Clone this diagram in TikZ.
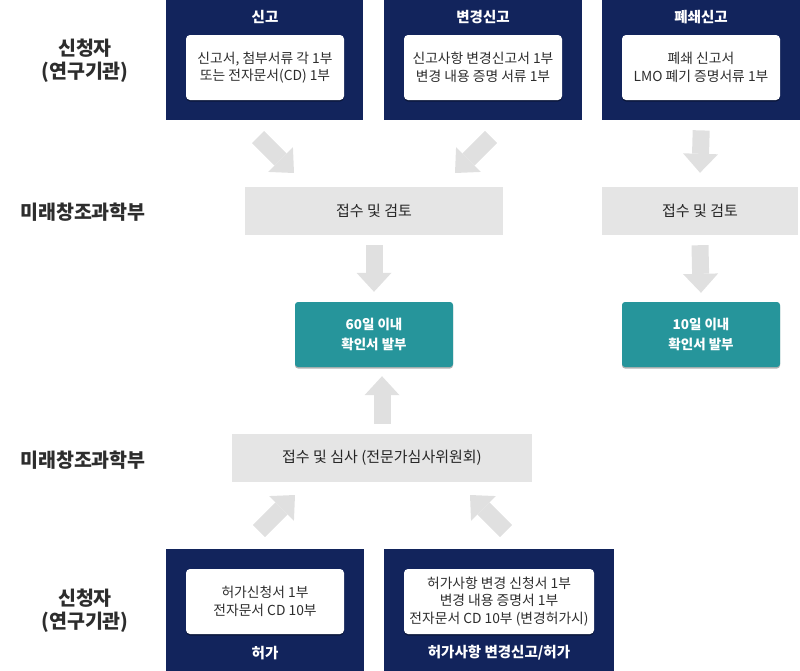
\documentclass[tikz,border=0pt]{standalone}
\usepackage{fontspec}
\setmainfont{Noto Sans CJK KR}
\usetikzlibrary{arrows.meta,positioning,shadows}
\definecolor{deepnavy}{RGB}{18,36,92}
\definecolor{tealbg}{RGB}{38,149,155}
\definecolor{boxgray}{RGB}{229,229,229}
\definecolor{arrowgray}{RGB}{224,224,224}
\definecolor{textgray}{RGB}{45,45,45}

\begin{document}
\begin{tikzpicture}[x=1pt, y=-1pt,
    navybox/.style={fill=deepnavy, inner sep=0pt, anchor=north west, minimum height=122pt},
    doctitle/.style={text=white, inner sep=0pt, font=\bfseries\fontsize{14.5}{16}\selectfont},
    docbox/.style={fill=white, rounded corners=4pt, minimum width=158pt, minimum height=65pt,
      align=center, inner sep=2pt, text=textgray, font=\fontsize{13.8}{17.5}\selectfont,
      drop shadow={shadow xshift=0pt, shadow yshift=-1.5pt, opacity=0.35, fill=black}},
    graybox/.style={fill=boxgray, minimum height=48pt, text=black!85,
      font=\fontsize{15}{17}\selectfont},
    tealbox/.style={fill=tealbg, rounded corners=3pt, minimum width=158pt, minimum height=65pt,
      align=center, text=white, font=\bfseries\fontsize{13.5}{20}\selectfont,
      drop shadow={shadow xshift=0pt, shadow yshift=-1.5pt, opacity=0.3, fill=black}},
    sidelabel/.style={align=center, text=textgray, font=\bfseries\fontsize{19.5}{23}\selectfont},
    fatarrow/.style={draw=arrowgray, line width=17pt,
      -{Triangle[length=19pt, width=35pt, line width=0pt]}}]
  \useasboundingbox (0,0) rectangle (800,670);

  % side labels
  \node[sidelabel] (appl1) at (85,61) {신청자\\(연구기관)};
  \node[sidelabel] (ministry1) at (83,212) {미래창조과학부};
  \node[sidelabel] (ministry2) at (83,460) {미래창조과학부};
  \node[sidelabel] (appl2) at (85,611) {신청자\\(연구기관)};

  % report forms
  \node[navybox, minimum width=197pt] (report) at (166,-2) {};
  \node[doctitle] (reporttitle) at (265,17) {신고};
  \node[docbox] (reportdoc) at (265,67.5) {신고서, 첨부서류 각 1부\\또는 전자문서(CD) 1부};

  \node[navybox, minimum width=198pt] (change) at (384,-2) {};
  \node[doctitle] (changetitle) at (483,17) {변경신고};
  \node[docbox] (changedoc) at (483,67.5) {신고사항 변경신고서 1부\\변경 내용 증명 서류 1부};

  \node[navybox, minimum width=198pt] (closing) at (602,-2) {};
  \node[doctitle] (closingtitle) at (701,17) {폐쇄신고};
  \node[docbox] (closingdoc) at (701,67.5) {폐쇄 신고서\\LMO 폐기 증명서류 1부};

  % review
  \node[graybox, minimum width=258pt] (review) at (374,211) {접수 및 검토};
  \node[graybox, minimum width=196pt] (review2) at (700,211) {접수 및 검토};

  \node[tealbox] (notice) at (374,334.5) {60일 이내\\확인서 발부};
  \node[tealbox] (notice2) at (701,334.5) {10일 이내\\확인서 발부};

  \node[graybox, minimum width=300pt] (screen) at (382,458) {접수 및 심사 (전문가심사위원회)};

  % permit forms
  \node[navybox, minimum width=198pt] (permit) at (166,549) {};
  \node[doctitle] (permittitle) at (265,653) {허가};
  \node[docbox] (permitdoc) at (265,601.5) {허가신청서 1부\\전자문서 CD 10부};

  \node[navybox, minimum width=230pt] (permitchange) at (384,549) {};
  \node[doctitle] (permitchangetitle) at (499,653) {허가사항 변경신고/허가};
  \node[docbox, minimum width=190pt] (permitchangedoc) at (499,601.5)
    {허가사항 변경 신청서 1부\\변경 내용 증명서 1부\\전자문서 CD 10부 (변경허가시)};

  % arrows
  \coordinate (d1s) at (258,137);
  \coordinate (d1e) at (294,173);
  \coordinate (d2s) at (491,137);
  \coordinate (d2e) at (455,173);
  \coordinate (d3s) at (259,531);
  \coordinate (d3e) at (295,495);
  \coordinate (d4s) at (506,531);
  \coordinate (d4e) at (470,495);
  \draw[fatarrow] (d1s) -- (d1e);
  \draw[fatarrow] (d2s) -- (d2e);
  \draw[fatarrow] (d3s) -- (d3e);
  \draw[fatarrow] (d4s) -- (d4e);
  \draw[fatarrow] ([yshift=-10pt]closing.south) -- ([yshift=14pt]review2.north);
  \draw[fatarrow] ([yshift=-10pt]review.south) -- ([yshift=10pt]notice.north);
  \draw[fatarrow] ([yshift=-10pt]review2.south) -- ([yshift=9pt]notice2.north);
  \draw[fatarrow] ([yshift=10pt]screen.north) -- ([yshift=-9pt]screen.north |- notice.south);
\end{tikzpicture}
\end{document}
